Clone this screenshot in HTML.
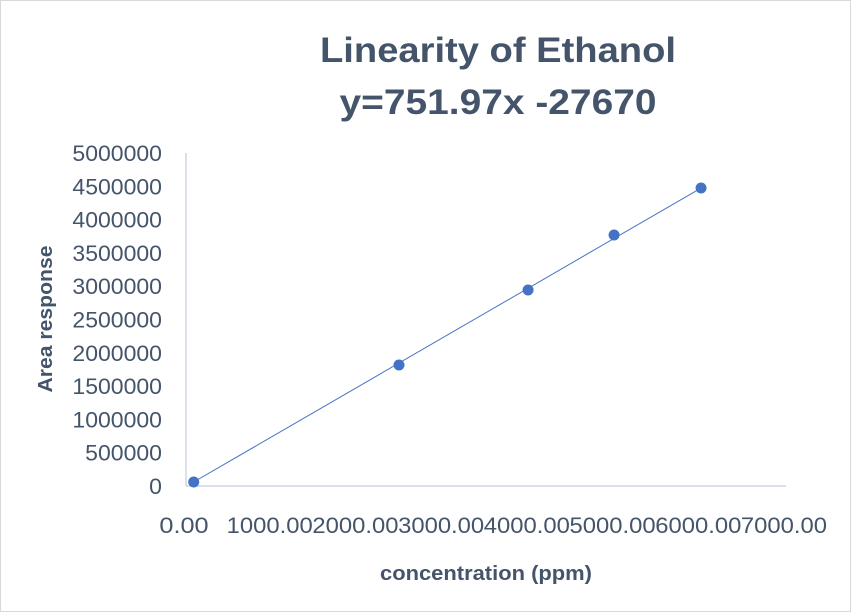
<!DOCTYPE html>
<html><head><meta charset="utf-8"><style>
html,body{margin:0;padding:0;background:#fff;}
svg{display:block;font-family:"Liberation Sans","DejaVu Sans",sans-serif;}
</style></head><body>
<svg id="chart" width="851" height="612">
<rect x="0.5" y="0.5" width="850" height="611" fill="#fff" stroke="#d9d9d9"/>
<text x="498" y="62" text-anchor="middle" font-size="35" font-weight="bold" fill="#44546a" textLength="356" lengthAdjust="spacingAndGlyphs">Linearity of Ethanol</text>
<text x="498" y="114" text-anchor="middle" font-size="35" font-weight="bold" fill="#44546a" textLength="317" lengthAdjust="spacingAndGlyphs">y=751.97x -27670</text>
<text transform="translate(52,319) rotate(-90)" text-anchor="middle" font-size="20" font-weight="bold" fill="#44546a" textLength="147" lengthAdjust="spacingAndGlyphs">Area response</text>
<text x="486" y="580" text-anchor="middle" font-size="20" font-weight="bold" fill="#44546a" textLength="212" lengthAdjust="spacingAndGlyphs">concentration (ppm)</text>
<g id="axes"></g>
<g id="marks"></g>
</svg>
<script>
const xTicks=[0,1000,2000,3000,4000,5000,6000,7000];
const xTickLabels=["0.00","1000.00","2000.00","3000.00","4000.00","5000.00","6000.00","7000.00"];
const yTicks=[0,500000,1000000,1500000,2000000,2500000,3000000,3500000,4000000,4500000,5000000];
const xValues=[90,2485,3991,4994,6009];
const yValues=[60000,1817000,2943000,3769000,4474000];
const X0=186,X1=786,Y0=486,Y1=153;
function sx(v){return X0+(v-0)/7000*(X1-X0);}
function sy(v){return Y0-(v/5000000)*(Y0-Y1);}
const NS="http://www.w3.org/2000/svg";
const axes=document.getElementById('axes'),marks=document.getElementById('marks');
function mk(tag,attrs,parent){const e=document.createElementNS(NS,tag);for(const k in attrs)e.setAttribute(k,attrs[k]);parent.appendChild(e);return e;}
const xa=mk('line',{x1:X0,y1:Y0,x2:X1,y2:Y0,stroke:'#b4c1d9','stroke-width':1},axes);


const ya=mk('line',{x1:X0,y1:Y1,x2:X0,y2:Y0,stroke:'#b4c1d9','stroke-width':1},axes);


xTicks.forEach((v,i)=>{
  const lab=xTickLabels[i];
  const t=mk('text',{x:sx(v)-2,y:533,'text-anchor':'middle','font-size':22,fill:'#44546a',textLength:lab.length*12.3,lengthAdjust:'spacingAndGlyphs'},axes);
  t.textContent=lab;
  
  
});
yTicks.forEach(v=>{
  const lab=String(v);
  const t=mk('text',{x:162,y:sy(v)+8,'text-anchor':'end','font-size':22,fill:'#44546a',textLength:lab.length*12.8,lengthAdjust:'spacingAndGlyphs'},axes);
  t.textContent=lab;
  
  
});
const n=xValues.length;
const tl=mk('line',{x1:sx(xValues[0]),y1:sy(yValues[0]),x2:sx(xValues[n-1]),y2:sy(yValues[n-1]),stroke:'#4472c4','stroke-width':1},marks);


xValues.forEach((v,i)=>{
  const c=mk('circle',{cx:sx(v),cy:sy(yValues[i]),r:5.5,fill:'#4472c4'},marks);
  
  
});
</script>
</body></html>
